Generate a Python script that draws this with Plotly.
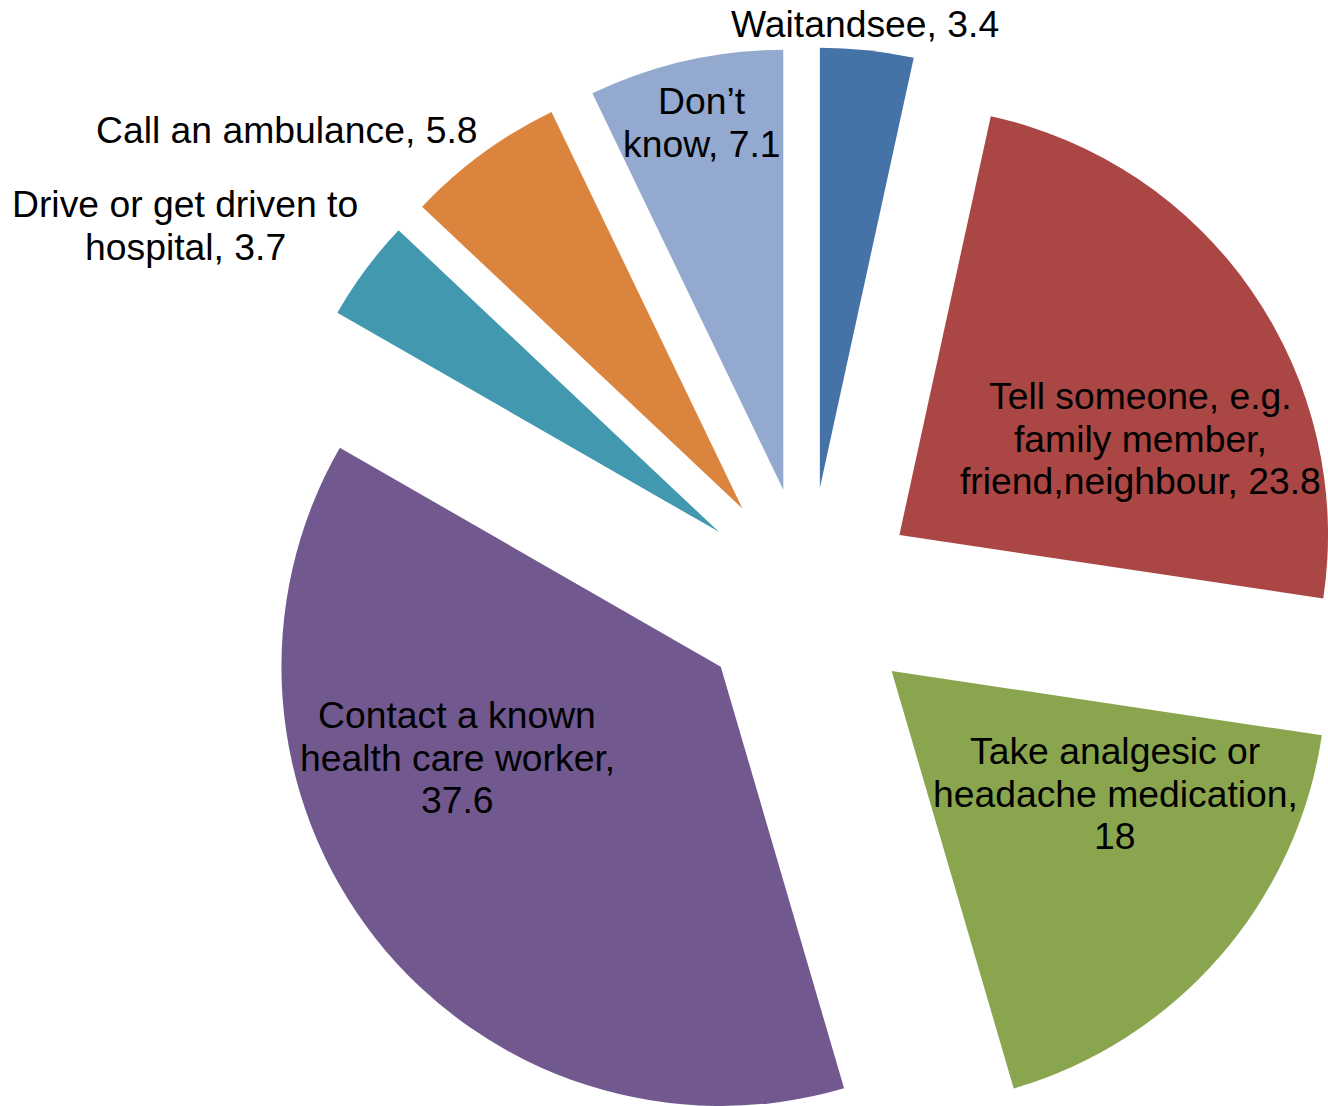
import math
import plotly.graph_objects as go

# ---- data ----
labels = [
    "Waitandsee",
    "Tell someone, e.g. family member, friend,neighbour",
    "Take analgesic or headache medication",
    "Contact a known health care worker",
    "Drive or get driven to hospital",
    "Call an ambulance",
    "Don’t know",
]
values = [3.4, 23.8, 18, 37.6, 3.7, 5.8, 7.1]
colors = ["#4572A7", "#AA4643", "#89A54E", "#71588F", "#4198AF", "#DB843D", "#93A9CF"]
# how each data label is wrapped; the value is appended to the last line
label_wrap = [
    ["Waitandsee, "],
    ["Tell someone, e.g.", "family member,", "friend,neighbour, "],
    ["Take analgesic or", "headache medication,", ""],
    ["Contact a known", "health care worker,", ""],
    ["Drive or get driven to", "hospital, "],
    ["Call an ambulance, "],
    ["Don’t", "know, "],
]

# ---- layout parameters (pixels) ----
W, H = 1328, 1106
CX, CY = 808, 598      # pie centre
R = 440                # radius
PULL = 111             # explode distance
FONT = "Liberation Sans, Arial, sans-serif"
FS = 37.3
LINE = 42.5
label_pos = [(865, 24), (1140, 396), (1115, 751), (457, 715),
             (185, 204), (287, 130), (702, 101)]

total = sum(values)
fig = go.Figure()
cum = 0.0
for i, v in enumerate(values):
    theta = 2 * math.pi * (cum + v / 2) / total
    cum += v
    cx = CX + PULL * math.sin(theta)
    cy = CY - PULL * math.cos(theta)
    r = min(R, cx, W - cx, cy, H - cy)
    slice_colors = [c if j == i else "rgba(0,0,0,0)" for j, c in enumerate(colors)]
    fig.add_trace(go.Pie(
        labels=labels,
        values=values,
        sort=False,
        direction="clockwise",
        rotation=0,
        marker=dict(colors=slice_colors, line=dict(width=0)),
        textinfo="none",
        hoverinfo="skip",
        showlegend=False,
        domain=dict(x=[(cx - r) / W, (cx + r) / W],
                    y=[1 - (cy + r) / H, 1 - (cy - r) / H]),
    ))

annotations = []
for lines, v, (px, py) in zip(label_wrap, values, label_pos):
    lines = list(lines)
    lines[-1] = lines[-1] + f"{v:g}"
    for k, ln in enumerate(lines):
        annotations.append(dict(
            text=ln, x=px / W, y=1 - (py + k * LINE) / H,
            xref="paper", yref="paper", xanchor="center", yanchor="middle",
            showarrow=False, font=dict(family=FONT, size=FS, color="#000000"),
        ))

fig.update_layout(
    width=W, height=H,
    margin=dict(l=0, r=0, t=0, b=0),
    paper_bgcolor="white", plot_bgcolor="white",
    annotations=annotations,
    showlegend=False,
)
fig.write_html("out.html", config={"displayModeBar": False},
               post_script="document.body.style.margin='0';")
